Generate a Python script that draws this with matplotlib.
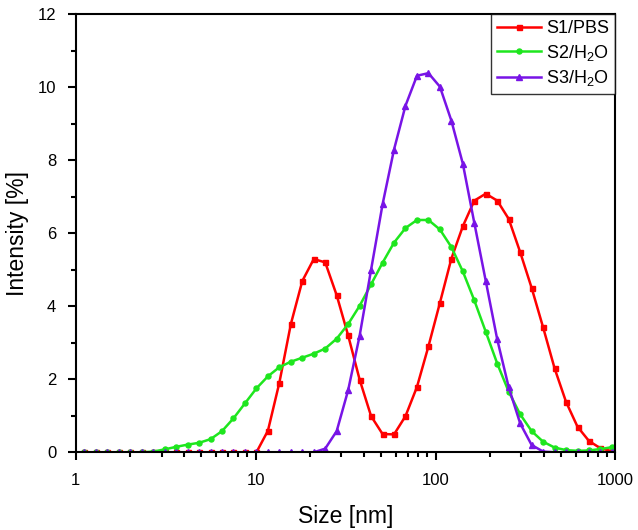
import matplotlib
matplotlib.use('Agg')
import matplotlib.pyplot as plt
from matplotlib.ticker import LogLocator, MultipleLocator, NullFormatter
import numpy as np

matplotlib.rcParams.update({'font.family': 'Liberation Sans',
                            'mathtext.fontset': 'custom',
                            'mathtext.rm': 'Liberation Sans'})

# size classes (nm), DLS bins
size_nm = [1.117, 1.294, 1.499, 1.736, 2.010, 2.328, 2.696, 3.122, 3.615, 4.187,
           4.849, 5.615, 6.503, 7.531, 8.721, 10.10, 11.70, 13.54, 15.69, 18.17,
           21.04, 24.36, 28.21, 32.67, 37.84, 43.82, 50.75, 58.77, 68.06, 78.82,
           91.28, 105.7, 122.4, 141.8, 164.2, 190.1, 220.2, 255.0, 295.3, 342.0,
           396.1, 458.7, 531.2, 615.1, 712.4, 825.0, 955.4, 1106]

s1_pbs = [0, 0, 0, 0, 0, 0, 0, 0, 0, 0,
          0, 0, 0, 0, 0, 0, 0.59, 1.90, 3.51, 4.69,
          5.29, 5.20, 4.30, 3.20, 1.99, 0.99, 0.50, 0.49, 0.99, 1.79,
          2.90, 4.09, 5.30, 6.19, 6.89, 7.08, 6.89, 6.39, 5.48, 4.50,
          3.42, 2.30, 1.38, 0.70, 0.31, 0.11, 0.03, 0.0]

s2_h2o = [0, 0, 0, 0, 0, 0, 0.02, 0.08, 0.15, 0.21,
          0.26, 0.36, 0.58, 0.93, 1.34, 1.75, 2.08, 2.33, 2.48, 2.59,
          2.70, 2.84, 3.11, 3.51, 4.01, 4.60, 5.19, 5.74, 6.14, 6.36,
          6.36, 6.10, 5.62, 4.95, 4.16, 3.30, 2.43, 1.66, 1.04, 0.58,
          0.29, 0.13, 0.06, 0.04, 0.05, 0.09, 0.14, 0.18]

s3_h2o = [0, 0, 0, 0, 0, 0, 0, 0, 0, 0,
          0, 0, 0, 0, 0, 0, 0, 0, 0, 0,
          0, 0.10, 0.58, 1.70, 3.19, 5.00, 6.79, 8.29, 9.49, 10.31,
          10.38, 10.01, 9.08, 7.90, 6.28, 4.69, 3.09, 1.78, 0.79, 0.20,
          0.02, 0, 0, 0, 0, 0, 0, 0]


def plot_dls():
    fig = plt.figure(figsize=(6.38, 5.30), dpi=100)
    ax = fig.add_axes([0.1187, 0.1466, 0.8460, 0.8270])

    ax.plot(size_nm, s1_pbs, color='#FF0000', lw=1.8, marker='s', ms=3.6,
            label='S1/PBS')
    ax.plot(size_nm, s2_h2o, color='#1EE61E', lw=1.8, marker='o', ms=3.6,
            label='S2/H$_\\mathregular{2}$O')
    ax.plot(size_nm, s3_h2o, color='#7814E6', lw=1.8, marker='^', ms=4.2,
            label='S3/H$_\\mathregular{2}$O')

    ax.set_xscale('log')
    ax.set_xlim(1, 1000)
    ax.set_ylim(0, 12)

    ax.xaxis.set_minor_locator(LogLocator(base=10, subs=np.arange(2, 10), numticks=20))
    ax.xaxis.set_minor_formatter(NullFormatter())
    ax.set_xticks([1, 10, 100, 1000])
    ax.set_xticklabels(['1', '10', '100', '1000'])
    ax.yaxis.set_major_locator(MultipleLocator(2))
    ax.yaxis.set_minor_locator(MultipleLocator(1))

    ax.tick_params(which='major', direction='out', length=6, width=1.5, labelsize=12,
                   top=False, right=False)
    ax.tick_params(which='minor', direction='out', length=3.5, width=1.5,
                   top=False, right=False)
    ax.tick_params(axis='x', which='major', pad=9)
    ax.tick_params(axis='y', which='major', pad=8)
    for sp in ax.spines.values():
        sp.set_linewidth(1.5)

    ax.set_xlabel('Size [nm]', fontsize=16.5, labelpad=12)
    ax.set_ylabel('Intensity [%]', fontsize=16.5, labelpad=6)

    leg = ax.legend(loc='upper right', fontsize=13, numpoints=1, fancybox=False,
                    borderaxespad=0.0, handlelength=2.4, labelspacing=0.3,
                    handletextpad=0.3, borderpad=0.35)
    leg.get_frame().set_edgecolor('black')
    leg.get_frame().set_linewidth(1.0)

    fig.savefig('out.png', dpi=100)


if __name__ == "__main__":
    plot_dls()
